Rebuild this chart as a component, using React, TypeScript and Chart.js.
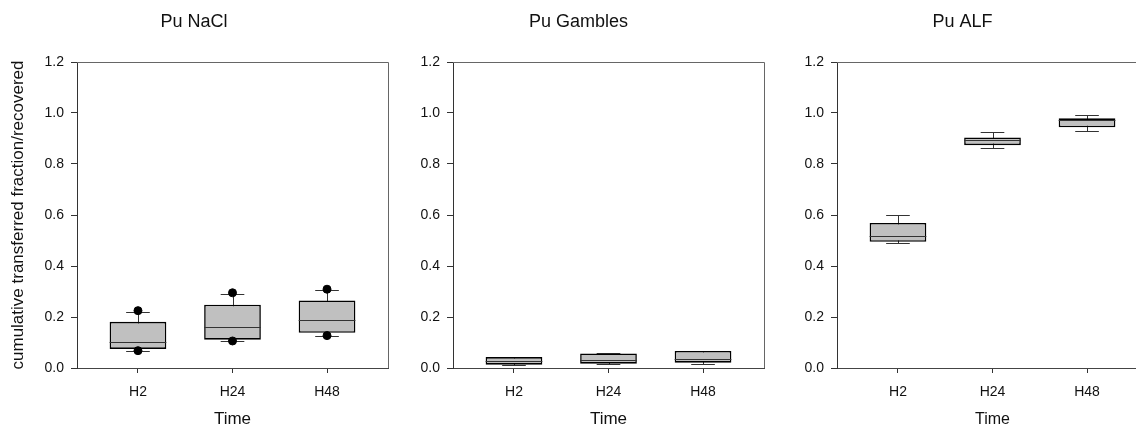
import React, { useEffect, useRef } from 'react';
import { Chart, registerables } from 'chart.js';

Chart.register(...registerables);

// ---------- data ----------
const categories = ['H2', 'H24', 'H48'];
const yTickValues = [0, 0.2, 0.4, 0.6, 0.8, 1.0, 1.2];

const naclLow = [0.068, 0.105, 0.127];
const naclQ1 = [0.075, 0.111, 0.138];
const naclMedian = [0.101, 0.160, 0.190];
const naclQ3 = [0.181, 0.248, 0.265];
const naclHigh = [0.221, 0.291, 0.305];
const naclOutliers = [[0.068, 0.225], [0.106, 0.295], [0.127, 0.309]];

const gamblesLow = [0.012, 0.015, 0.017];
const gamblesQ1 = [0.013, 0.017, 0.021];
const gamblesMedian = [0.028, 0.033, 0.037];
const gamblesQ3 = [0.043, 0.057, 0.067];
const gamblesHigh = [0.045, 0.058, 0.068];
const gamblesOutliers: number[][] = [[], [], []];

const alfLow = [0.490, 0.863, 0.929];
const alfQ1 = [0.495, 0.874, 0.944];
const alfMedian = [0.519, 0.895, 0.972];
const alfQ3 = [0.569, 0.904, 0.979];
const alfHigh = [0.601, 0.924, 0.993];
const alfOutliers: number[][] = [[], [], []];

const titles = ['Pu NaCl', 'Pu Gambles', 'Pu ALF'];
const xTitle = 'Time';
const yTitle = 'cumulative transferred fraction/recovered';

// ---------- layout / style ----------
const FONT = '"Liberation Sans", Arial, Helvetica, sans-serif';
const X_MIN = -0.645;
const X_MAX = 2.645;
const CAP_WIDTH = 0.25;

type PanelData = {
  title: string;
  low: number[];
  q1: number[];
  median: number[];
  q3: number[];
  high: number[];
  outliers: number[][];
};

type PanelLayout = {
  left: number;
  width: number;
  axisWidth: number;
  showYTitle: boolean;
  titleSize: number;
  xTitleSize: number;
  tickSize: number;
};

const panels: PanelData[] = [
  { title: titles[0], low: naclLow, q1: naclQ1, median: naclMedian, q3: naclQ3, high: naclHigh, outliers: naclOutliers },
  { title: titles[1], low: gamblesLow, q1: gamblesQ1, median: gamblesMedian, q3: gamblesQ3, high: gamblesHigh, outliers: gamblesOutliers },
  { title: titles[2], low: alfLow, q1: alfQ1, median: alfMedian, q3: alfQ3, high: alfHigh, outliers: alfOutliers },
];

const layouts: PanelLayout[] = [
  { left: 0, width: 400, axisWidth: 77, showYTitle: true, titleSize: 18, xTitleSize: 17, tickSize: 14 },
  { left: 393, width: 383, axisWidth: 60, showYTitle: false, titleSize: 18, xTitleSize: 17, tickSize: 14 },
  { left: 777, width: 383, axisWidth: 60, showYTitle: false, titleSize: 18, xTitleSize: 16, tickSize: 14 },
];

function makeBoxPlugin(p: PanelData) {
  return {
    id: 'boxExtras',
    beforeDatasetsDraw(chart: any) {
      const { ctx, scales } = chart;
      const x = scales.x;
      const y = scales.y;
      ctx.save();
      ctx.strokeStyle = '#333';
      ctx.lineWidth = 1;
      categories.forEach((_, i) => {
        const cx = Math.round(x.getPixelForValue(i)) + 0.5;
        const c0 = x.getPixelForValue(i - CAP_WIDTH / 2);
        const c1 = x.getPixelForValue(i + CAP_WIDTH / 2);
        const yl = Math.round(y.getPixelForValue(p.low[i])) + 0.5;
        const yh = Math.round(y.getPixelForValue(p.high[i])) + 0.5;
        ctx.beginPath();
        ctx.moveTo(cx, yl);
        ctx.lineTo(cx, yh);
        ctx.moveTo(c0, yl);
        ctx.lineTo(c1, yl);
        ctx.moveTo(c0, yh);
        ctx.lineTo(c1, yh);
        ctx.stroke();
      });
      ctx.restore();
    },
    afterDatasetsDraw(chart: any) {
      const { ctx, scales, chartArea } = chart;
      const x = scales.x;
      const y = scales.y;
      ctx.save();
      ctx.strokeStyle = '#333';
      ctx.lineWidth = 1;
      categories.forEach((_, i) => {
        const b0 = x.getPixelForValue(i - 0.3);
        const b1 = x.getPixelForValue(i + 0.3);
        const ym = Math.round(y.getPixelForValue(p.median[i])) + 0.5;
        ctx.beginPath();
        ctx.moveTo(b0, ym);
        ctx.lineTo(b1, ym);
        ctx.stroke();
      });
      // frame: top and right
      ctx.strokeStyle = '#666';
      ctx.beginPath();
      ctx.moveTo(chartArea.left, Math.round(chartArea.top) + 0.5);
      ctx.lineTo(Math.round(chartArea.right) + 0.5, Math.round(chartArea.top) + 0.5);
      ctx.lineTo(Math.round(chartArea.right) + 0.5, chartArea.bottom);
      ctx.stroke();
      ctx.restore();
    },
  };
}

function BoxPanel({ data, layout }: { data: PanelData; layout: PanelLayout }) {
  const ref = useRef<HTMLCanvasElement | null>(null);
  useEffect(() => {
    if (!ref.current) return;
    const boxData = categories.map((_, i) => ({ x: i, y: [data.q1[i], data.q3[i]] }));
    const outlierData: { x: number; y: number }[] = [];
    data.outliers.forEach((list, i) => list.forEach((v) => outlierData.push({ x: i, y: v })));
    const tLine = layout.titleSize * 1.2;
    const tTop = 22.5 - tLine / 2;
    const chart = new Chart(ref.current, {
      type: 'bar',
      data: {
        datasets: [
          {
            type: 'scatter',
            data: outlierData,
            backgroundColor: '#000',
            borderColor: '#000',
            pointRadius: 4,
            showLine: false,
          } as any,
          {
            type: 'bar',
            data: boxData as any,
            backgroundColor: '#c0c0c0',
            borderColor: '#000',
            borderWidth: 1.6,
            borderSkipped: false,
            barPercentage: 0.75,
            categoryPercentage: 0.8,
          } as any,
        ],
      },
      options: {
        responsive: false,
        animation: false,
        layout: { padding: { left: 0, right: 12, top: 0, bottom: 0 } },
        plugins: {
          legend: { display: false },
          tooltip: { enabled: false },
          title: {
            display: true,
            text: data.title,
            color: '#111',
            font: { family: FONT, size: layout.titleSize, weight: 'normal', lineHeight: 1.2 },
            padding: { top: tTop, bottom: 62 - tTop - tLine },
          },
        },
        scales: {
          x: {
            type: 'linear',
            min: X_MIN,
            max: X_MAX,
            offset: false,
            afterBuildTicks: (scale: any) => {
              scale.ticks = categories.map((_, i) => ({ value: i }));
            },
            afterFit: (scale: any) => {
              scale.height = 60;
            },
            grid: { display: true, drawOnChartArea: false, tickLength: 5, color: '#333', offset: false },
            border: { display: true, color: '#444', width: 1 },
            ticks: {
              padding: 11,
              color: '#111',
              font: { family: FONT, size: layout.tickSize },
              maxRotation: 0,
              callback: (v: any) => categories[Math.round(Number(v))] ?? '',
            },
            title: {
              display: true,
              text: xTitle,
              color: '#111',
              font: { family: FONT, size: layout.xTitleSize, lineHeight: 1 },
              padding: 0,
            },
          },
          y: {
            type: 'linear',
            min: 0,
            max: 1.2,
            afterBuildTicks: (scale: any) => {
              scale.ticks = yTickValues.map((v) => ({ value: v }));
            },
            afterFit: (scale: any) => {
              scale.width = layout.axisWidth;
            },
            grid: { display: true, drawOnChartArea: false, tickLength: 6, color: '#333' },
            border: { display: true, color: '#333', width: 1 },
            ticks: {
              padding: 7,
              color: '#111',
              font: { family: FONT, size: layout.tickSize },
              callback: (v: any) => Number(v).toFixed(1),
            },
            title: {
              display: layout.showYTitle,
              text: yTitle,
              color: '#111',
              font: { family: FONT, size: 17, lineHeight: 1 },
              padding: { top: 9.5, bottom: 0 },
            },
          },
        },
      } as any,
      plugins: [makeBoxPlugin(data) as any],
    });
    return () => chart.destroy();
  }, [data, layout]);
  return (
    <canvas
      ref={ref}
      width={layout.width}
      height={428}
      style={{ position: 'absolute', left: layout.left, top: 0, width: layout.width, height: 428 }}
    />
  );
}

export default function App() {
  return (
    <div
      style={{
        position: 'fixed',
        left: 0,
        top: 0,
        width: 1136,
        height: 428,
        overflow: 'hidden',
        background: '#fff',
      }}
    >
      {panels.map((p, i) => (
        <BoxPanel key={i} data={p} layout={layouts[i]} />
      ))}
    </div>
  );
}
